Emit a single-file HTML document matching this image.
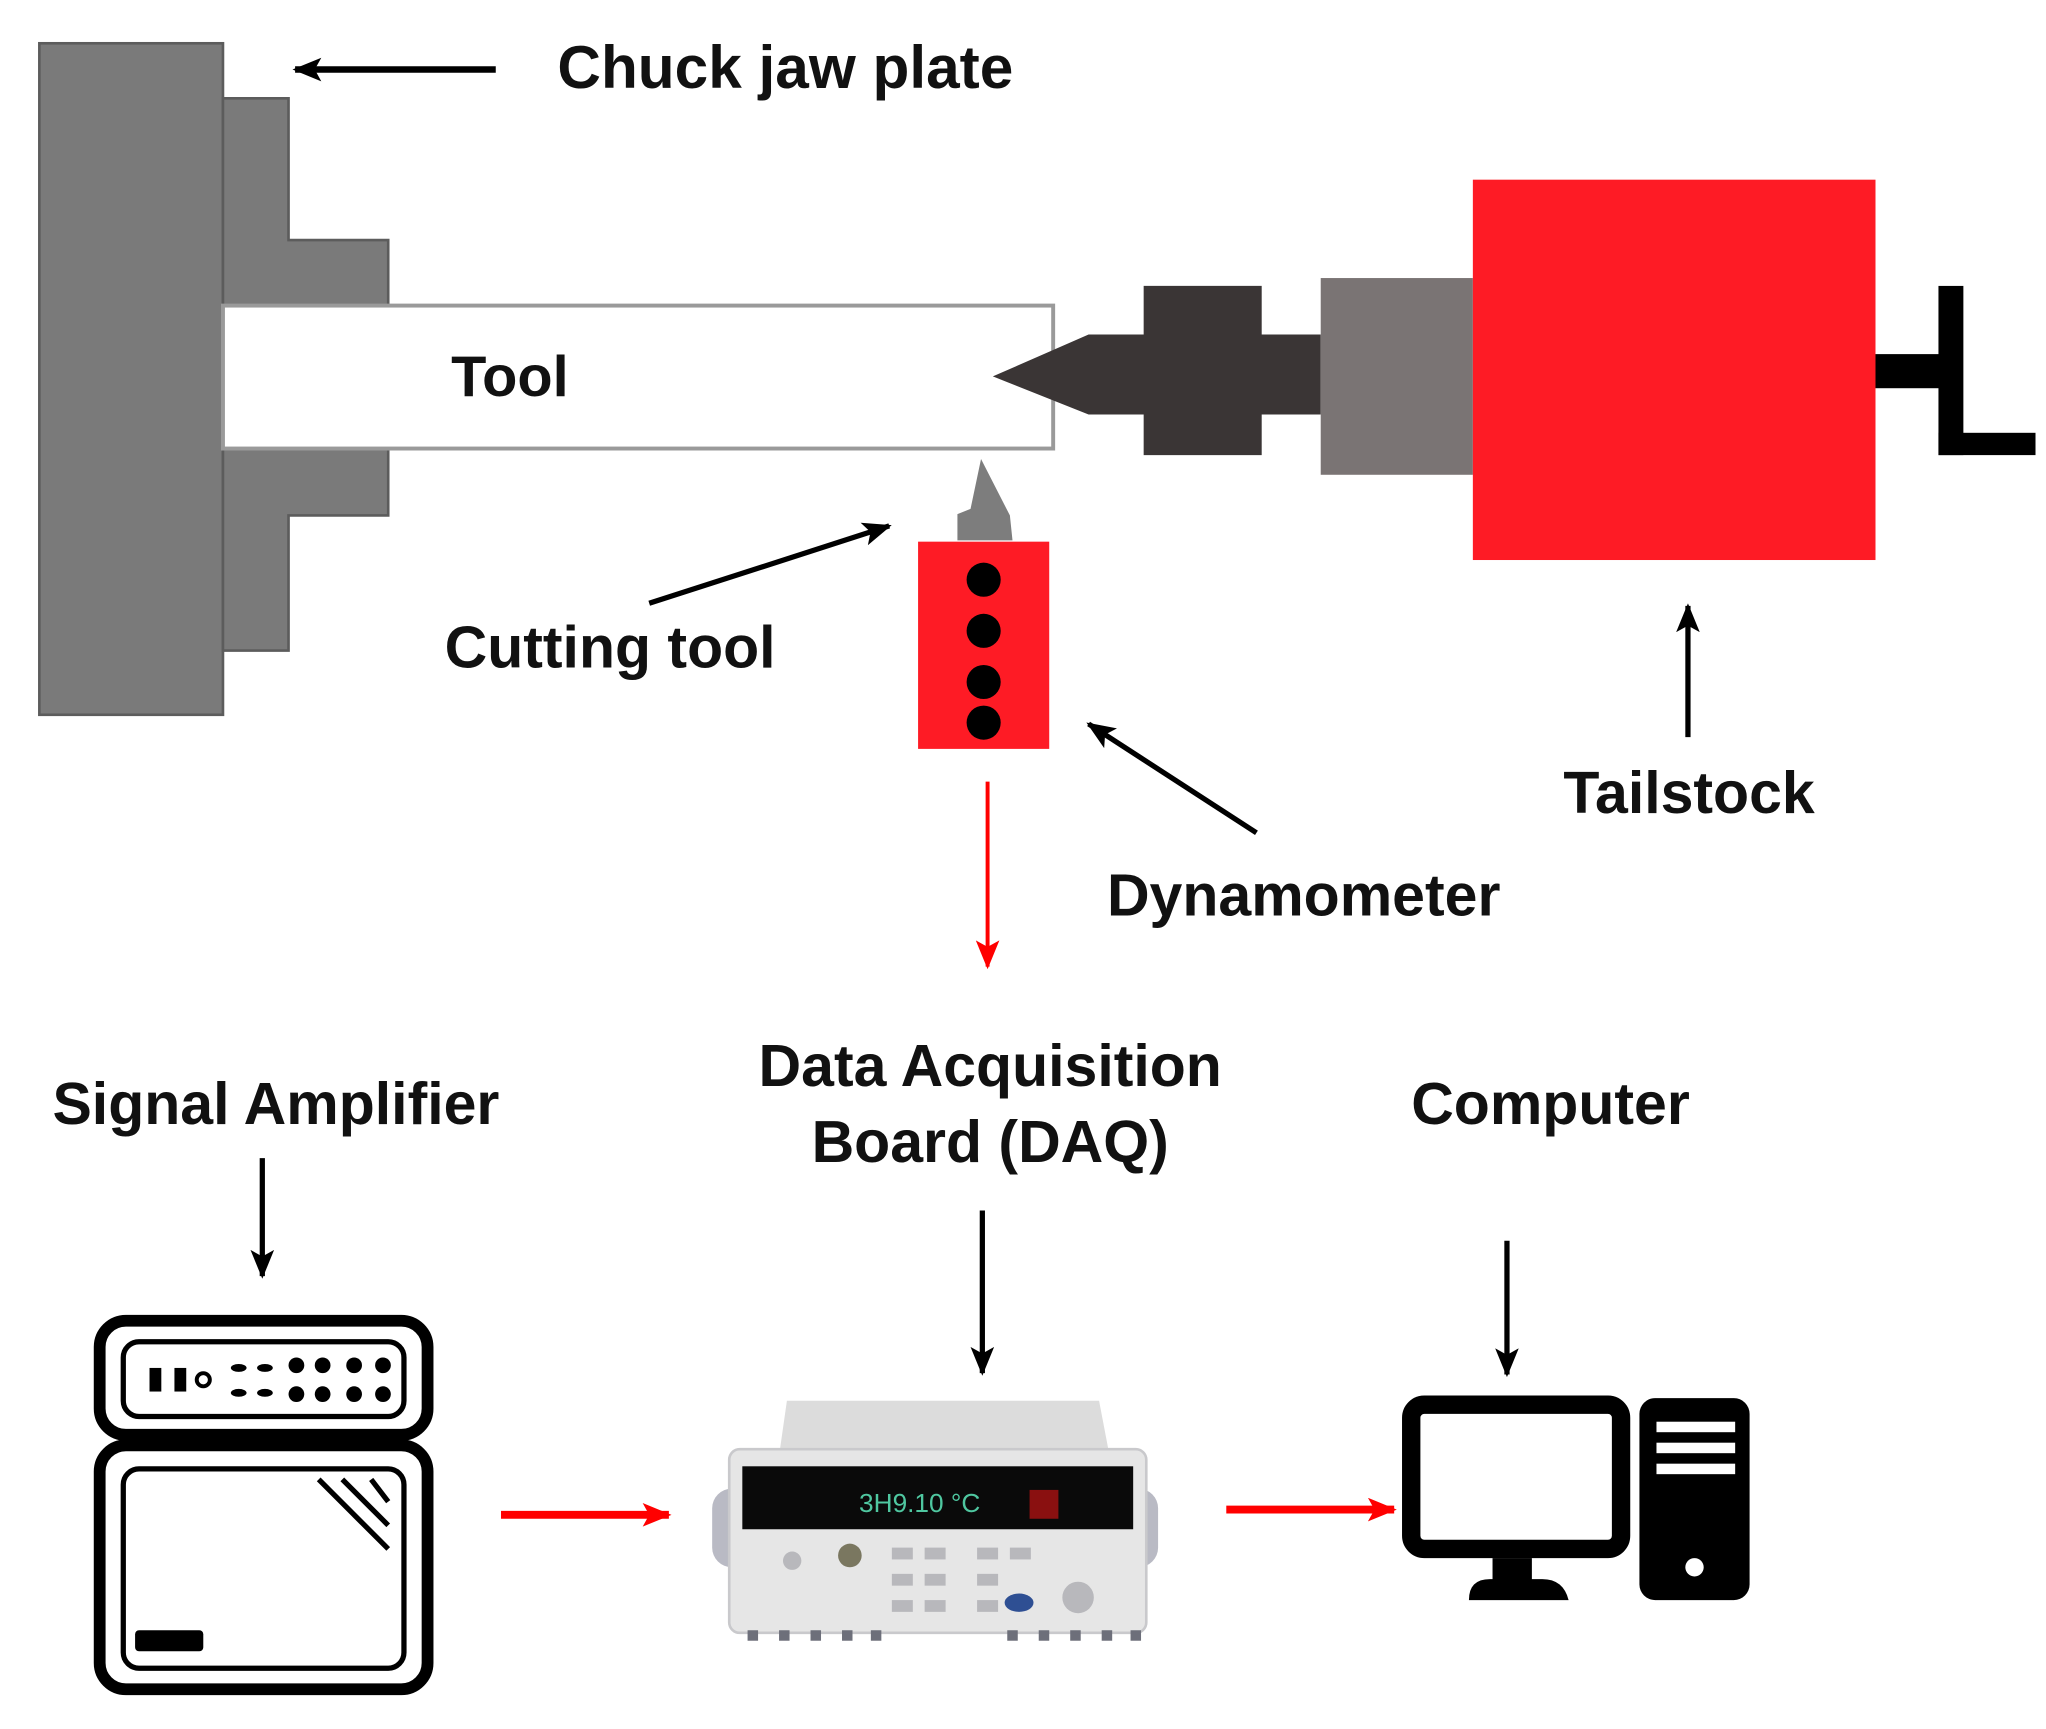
<!DOCTYPE html>
<html><head><meta charset="utf-8"><style>
html,body{margin:0;padding:0;background:#fff;}
svg{display:block;}
text{font-family:"Liberation Sans",sans-serif;font-weight:bold;fill:#111;}
</style></head><body>
<svg width="2046" height="1729" viewBox="0 0 1560 1318.3" preserveAspectRatio="none" xmlns="http://www.w3.org/2000/svg">
<defs>
<marker id="ab" markerWidth="22" markerHeight="18" refX="20" refY="9" orient="auto" markerUnits="userSpaceOnUse" viewBox="0 0 22 18"><path d="M0,0 L22,9 L0,18 L5,9 Z" fill="#000"/></marker>
<marker id="ar" markerWidth="22" markerHeight="18" refX="20" refY="9" orient="auto" markerUnits="userSpaceOnUse" viewBox="0 0 22 18"><path d="M0,0 L22,9 L0,18 L5,9 Z" fill="#f00"/></marker>
</defs>
<rect width="1560" height="1320" fill="#fff"/>
<!-- chuck -->
<rect x="30" y="33" width="140" height="512" fill="#7a7a7a" stroke="#5c5c5c" stroke-width="2"/>
<path d="M170 75 H220 V183 H296 V233 H170 Z" fill="#7a7a7a" stroke="#5c5c5c" stroke-width="2"/>
<path d="M170 342 H296 V393 H220 V496 H170 Z" fill="#7a7a7a" stroke="#5c5c5c" stroke-width="2"/>
<rect x="170" y="233" width="633" height="109" fill="#fff" stroke="#9a9a9a" stroke-width="3"/>
<!-- live center -->
<path d="M757 287 L830 255 H872 V218 H962 V255 H1007 V316 H962 V347 H872 V316 H830 Z" fill="#3a3535"/>
<rect x="1007" y="212" width="116" height="150" fill="#7a7474"/>
<rect x="1123" y="137" width="307" height="290" fill="#fe1b25"/>
<rect x="1430" y="270" width="50" height="26" fill="#000"/>
<rect x="1478" y="218" width="19" height="129" fill="#000"/>
<rect x="1478" y="330" width="74" height="17" fill="#000"/>
<!-- cutting tool + dynamometer -->
<path d="M730 412 V392 L740 388 L748 350 L770 393 L772 412 Z" fill="#7d7d7d"/>
<rect x="700" y="413" width="100" height="158" fill="#fe1b25"/>
<circle cx="750" cy="442" r="13" fill="#000"/>
<circle cx="750" cy="481" r="13" fill="#000"/>
<circle cx="750" cy="520" r="13" fill="#000"/>
<circle cx="750" cy="551" r="13" fill="#000"/>
<!-- labels top -->
<text x="425" y="67" font-size="46">Chuck jaw plate</text>
<text x="344" y="302" font-size="44">Tool</text>
<text x="339" y="509" font-size="45">Cutting tool</text>
<text x="844" y="698" font-size="45">Dynamometer</text>
<text x="1192" y="620" font-size="45">Tailstock</text>
<!-- arrows top -->
<line x1="378" y1="53" x2="225" y2="53" stroke="#000" stroke-width="5" marker-end="url(#ab)"/>
<line x1="495" y1="460" x2="678" y2="401" stroke="#000" stroke-width="4" marker-end="url(#ab)"/>
<line x1="958" y1="635" x2="830" y2="552" stroke="#000" stroke-width="4" marker-end="url(#ab)"/>
<line x1="1287" y1="562" x2="1287" y2="462" stroke="#000" stroke-width="4" marker-end="url(#ab)"/>
<line x1="753" y1="596" x2="753" y2="737" stroke="#f00" stroke-width="3" marker-end="url(#ar)"/>
<!-- bottom labels -->
<text x="40" y="857" font-size="45">Signal Amplifier</text>
<text x="755" y="828" font-size="45" text-anchor="middle">Data Acquisition</text>
<text x="755" y="886" font-size="45" text-anchor="middle">Board (DAQ)</text>
<text x="1076" y="857" font-size="45">Computer</text>
<line x1="200" y1="883" x2="200" y2="973" stroke="#000" stroke-width="4" marker-end="url(#ab)"/>
<line x1="749" y1="923" x2="749" y2="1047" stroke="#000" stroke-width="4" marker-end="url(#ab)"/>
<line x1="1149" y1="946" x2="1149" y2="1048" stroke="#000" stroke-width="4" marker-end="url(#ab)"/>
<line x1="382" y1="1155" x2="510" y2="1155" stroke="#f00" stroke-width="6" marker-end="url(#ar)"/>
<line x1="935" y1="1151" x2="1063" y2="1151" stroke="#f00" stroke-width="6" marker-end="url(#ar)"/>
<!-- amplifier -->
<g fill="none" stroke="#000">
<rect x="76" y="1007" width="250" height="87" rx="20" stroke-width="9"/>
<rect x="94" y="1023" width="214" height="57" rx="12" stroke-width="4"/>
<rect x="76" y="1102" width="250" height="186" rx="20" stroke-width="9"/>
<rect x="94" y="1120" width="214" height="152" rx="12" stroke-width="4"/>
<line x1="243" y1="1128" x2="296" y2="1181" stroke-width="4"/>
<line x1="261" y1="1128" x2="296" y2="1163" stroke-width="4"/>
<line x1="283" y1="1128" x2="296" y2="1145" stroke-width="4"/>
<circle cx="155" cy="1052" r="5" stroke-width="3"/>
</g>
<g fill="#000">
<rect x="133" y="1043" width="9" height="18"/><rect x="114" y="1043" width="9" height="18"/>
<rect x="103" y="1243" width="52" height="16" rx="3"/>
<ellipse cx="182" cy="1043" rx="6" ry="3"/><ellipse cx="202" cy="1043" rx="6" ry="3"/>
<ellipse cx="182" cy="1062" rx="6" ry="3"/><ellipse cx="202" cy="1062" rx="6" ry="3"/>
<circle cx="226" cy="1041" r="6"/><circle cx="246" cy="1041" r="6"/><circle cx="270" cy="1041" r="6"/><circle cx="292" cy="1041" r="6"/>
<circle cx="226" cy="1063" r="6"/><circle cx="246" cy="1063" r="6"/><circle cx="270" cy="1063" r="6"/><circle cx="292" cy="1063" r="6"/>
</g>
<!-- DAQ -->
<rect x="543" y="1135" width="340" height="60" rx="15" fill="#b9bac4"/>
<path d="M600 1068 H838 L846 1110 H594 Z" fill="#dcdcdc"/>
<rect x="556" y="1105" width="318" height="140" rx="8" fill="#e6e6e6" stroke="#c9c9cc" stroke-width="2"/>
<rect x="566" y="1118" width="298" height="48" fill="#0a0a0a"/>
<text x="655" y="1153" font-size="20" style="fill:#4fc7a0;font-weight:normal">3H9.10  °C</text>
<rect x="785" y="1136" width="22" height="22" fill="#8a1010"/>
<g fill="#b8b8bc">
<circle cx="604" cy="1190" r="7"/><circle cx="648" cy="1186" r="9" fill="#7a7760"/>
<rect x="680" y="1180" width="16" height="9"/><rect x="705" y="1180" width="16" height="9"/>
<rect x="680" y="1200" width="16" height="9"/><rect x="705" y="1200" width="16" height="9"/>
<rect x="680" y="1220" width="16" height="9"/><rect x="705" y="1220" width="16" height="9"/>
<rect x="745" y="1180" width="16" height="9"/><rect x="770" y="1180" width="16" height="9"/>
<rect x="745" y="1200" width="16" height="9"/><rect x="745" y="1220" width="16" height="9"/>
<circle cx="822" cy="1218" r="12"/>
</g>
<ellipse cx="777" cy="1222" rx="11" ry="7" fill="#2e4f93"/>
<g fill="#6d6f7a">
<rect x="570" y="1243" width="8" height="8"/><rect x="594" y="1243" width="8" height="8"/><rect x="618" y="1243" width="8" height="8"/><rect x="642" y="1243" width="8" height="8"/><rect x="664" y="1243" width="8" height="8"/>
<rect x="768" y="1243" width="8" height="8"/><rect x="792" y="1243" width="8" height="8"/><rect x="816" y="1243" width="8" height="8"/><rect x="840" y="1243" width="8" height="8"/><rect x="862" y="1243" width="8" height="8"/>
</g>
<!-- computer -->
<rect x="1076" y="1071" width="160" height="110" rx="10" fill="#fff" stroke="#000" stroke-width="14"/>
<rect x="1138" y="1188" width="30" height="20" fill="#000"/>
<path d="M1120 1220 Q1120 1204 1136 1204 H1176 Q1192 1204 1196 1220 Z" fill="#000"/>
<rect x="1250" y="1066" width="84" height="154" rx="12" fill="#000"/>
<rect x="1263" y="1084" width="60" height="8" fill="#fff"/>
<rect x="1263" y="1100" width="60" height="8" fill="#fff"/>
<rect x="1263" y="1116" width="60" height="8" fill="#fff"/>
<circle cx="1292" cy="1195" r="7" fill="#fff"/>
</svg>
</body></html>
